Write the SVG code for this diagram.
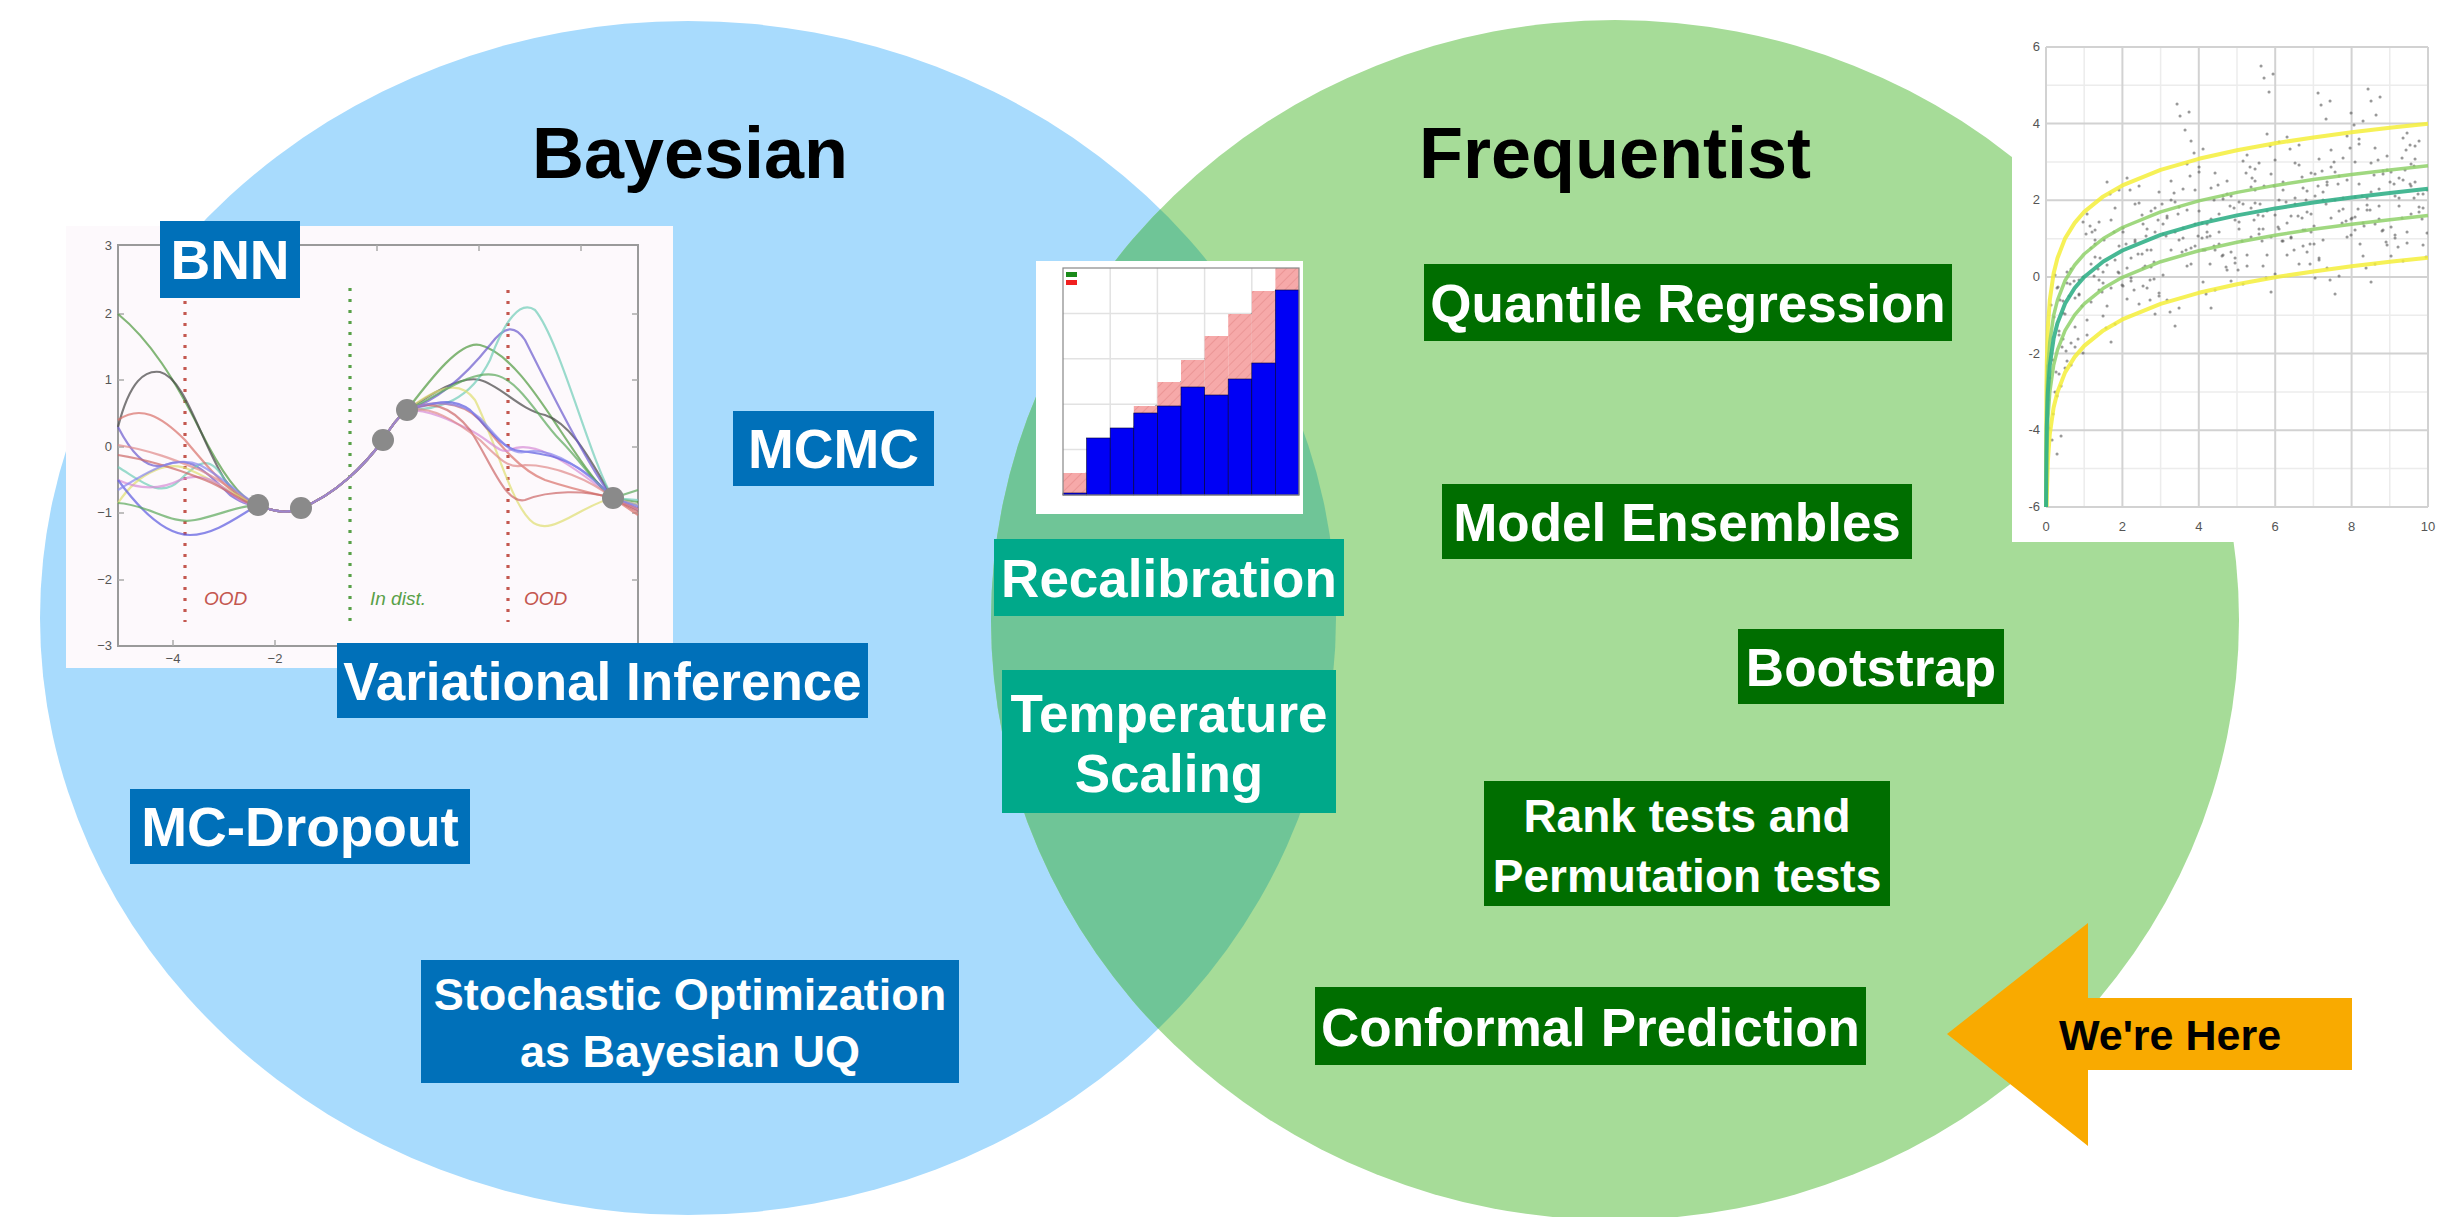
<svg xmlns="http://www.w3.org/2000/svg" width="2449" height="1217" viewBox="0 0 2449 1217">
<defs>
<style>
.lbl{font-family:"Liberation Sans",Arial,Helvetica,sans-serif;font-weight:bold;fill:#fff;text-anchor:middle}
.title{font-family:"Liberation Sans",Arial,Helvetica,sans-serif;font-weight:bold;font-size:72px;fill:#000;text-anchor:middle}
.bay{fill:#0070B9}
.freq{fill:#006E00}
.mid{fill:#00A98A}
.tick{font-family:"Liberation Sans",Arial,sans-serif;font-size:13px;fill:#555}
.crv{fill:none;stroke-width:2.2;opacity:.7}
.note{font-family:"Liberation Sans",Arial,sans-serif;font-style:italic;font-size:19px}
</style>
<clipPath id="blueClip"><ellipse cx="688" cy="618" rx="648" ry="597"/></clipPath>
<clipPath id="plotClip"><rect x="2046" y="47" width="382" height="460"/></clipPath>
<pattern id="hatch" width="7" height="7" patternUnits="userSpaceOnUse" patternTransform="rotate(45)">
<rect width="7" height="7" fill="#f6a9a9"/>
<line x1="0" y1="0" x2="0" y2="7" stroke="#e48a8a" stroke-width="1.2"/>
</pattern>
</defs>
<rect width="2449" height="1217" fill="#fff"/>

<g id="venn">
<ellipse id="bayesian-set" cx="688" cy="618" rx="648" ry="597" fill="#A8DBFD"/>
<ellipse id="frequentist-set" cx="1615" cy="620" rx="624" ry="600" fill="#A6DC98"/>
<ellipse cx="1615" cy="620" rx="624" ry="600" fill="#6FC597" clip-path="url(#blueClip)"/>
</g>

<text class="title" x="690" y="178">Bayesian</text>
<text class="title" x="1615" y="178">Frequentist</text>

<g id="bnn-plot">
<rect x="66" y="226" width="607" height="442" fill="#fdf9fc"/>
<rect x="118" y="245" width="520" height="401" fill="none" stroke="#9a9a9a" stroke-width="2"/>
<g stroke="#aaa" stroke-width="1.5">
<line x1="118" y1="314" x2="124" y2="314"/><line x1="118" y1="380" x2="124" y2="380"/><line x1="118" y1="447" x2="124" y2="447"/><line x1="118" y1="513" x2="124" y2="513"/><line x1="118" y1="580" x2="124" y2="580"/>
<line x1="632" y1="314" x2="638" y2="314"/><line x1="632" y1="380" x2="638" y2="380"/><line x1="632" y1="447" x2="638" y2="447"/><line x1="632" y1="513" x2="638" y2="513"/><line x1="632" y1="580" x2="638" y2="580"/>
<line x1="173" y1="640" x2="173" y2="646"/><line x1="275" y1="640" x2="275" y2="646"/><line x1="173" y1="245" x2="173" y2="251"/><line x1="275" y1="245" x2="275" y2="251"/><line x1="377" y1="245" x2="377" y2="251"/><line x1="479" y1="245" x2="479" y2="251"/><line x1="581" y1="245" x2="581" y2="251"/>
</g>
<g class="tick" text-anchor="end">
<text x="112" y="250">3</text><text x="112" y="318">2</text><text x="112" y="384">1</text><text x="112" y="451">0</text><text x="112" y="517">−1</text><text x="112" y="584">−2</text><text x="112" y="650">−3</text>
</g>
<g class="tick" text-anchor="middle"><text x="173" y="663">−4</text><text x="275" y="663">−2</text></g>
<g stroke-width="3.2" stroke-dasharray="3 8">
<line x1="185" y1="290" x2="185" y2="622" stroke="#c4574f"/>
<line x1="350" y1="288" x2="350" y2="622" stroke="#58a048"/>
<line x1="508" y1="290" x2="508" y2="622" stroke="#c4574f"/>
</g>
<path class="crv" stroke="#4f9a3e" d="M118,314 C150,340 175,380 200,430 C220,470 240,500 258,505 C275,512 288,514 301,508 C335,495 365,465 383,440 C390,428 398,417 407,410 C430,380 460,340 480,345 C510,352 540,400 560,430 C580,460 600,490 613,498 L638,502"/>
<path class="crv" stroke="#444" d="M118,427 C130,380 145,370 160,372 C185,378 200,440 225,480 C240,500 250,505 258,505 C275,512 288,514 301,508 C335,495 365,465 383,440 C390,428 398,417 407,410 C430,395 460,375 480,380 C500,385 520,410 545,415 C575,425 595,470 613,498 L638,510"/>
<path class="crv" stroke="#6a5acd" d="M118,427 C135,460 150,470 165,465 C190,455 205,470 230,495 C245,505 250,505 258,505 C275,512 288,514 301,508 C335,495 365,465 383,440 C390,428 398,417 407,410 C440,400 470,370 490,345 C505,325 515,325 525,340 C550,390 590,470 613,498 L638,505"/>
<path class="crv" stroke="#6fcdb8" d="M118,467 C140,480 160,500 180,480 C200,460 210,455 225,480 C240,500 250,505 258,505 C275,512 288,514 301,508 C335,495 365,465 383,440 C390,428 398,417 407,410 C440,410 470,400 490,360 C505,320 520,300 535,310 C560,340 590,460 613,498 L638,500"/>
<path class="crv" stroke="#d9706a" d="M118,420 C140,405 160,415 185,440 C210,470 235,500 258,505 C275,512 288,514 301,508 C335,495 365,465 383,440 C390,428 398,417 407,410 C430,400 460,400 480,420 C500,445 520,470 545,480 C575,490 600,495 613,498 L638,515"/>
<path class="crv" stroke="#dede70" d="M118,503 C140,470 170,460 190,470 C215,480 240,500 258,505 C275,512 288,514 301,508 C335,495 365,465 383,440 C390,428 398,417 407,410 C440,385 460,380 475,400 C495,440 510,500 530,520 C550,540 580,505 613,498 L638,505"/>
<path class="crv" stroke="#d58cd5" d="M118,480 C140,490 160,490 180,480 C205,470 220,485 240,500 C250,505 255,505 258,505 C275,512 288,514 301,508 C335,495 365,465 383,440 C390,428 398,417 407,410 C430,410 450,420 470,430 C490,440 500,455 510,450 C530,440 560,455 613,498 L638,510"/>
<path class="crv" stroke="#5a5ae0" d="M118,480 C140,510 165,535 190,535 C215,535 240,515 258,505 C275,512 288,514 301,508 C335,495 365,465 383,440 C390,428 398,417 407,410 C430,405 450,395 470,410 C490,430 500,445 515,450 C540,455 570,450 613,498 L638,508"/>
<path class="crv" stroke="#5aa85a" d="M118,503 C150,505 170,525 195,520 C220,515 240,505 258,505 C275,512 288,514 301,508 C335,495 365,465 383,440 C390,428 398,417 407,410 C440,395 470,370 495,375 C520,380 540,420 560,440 C580,460 600,490 613,498 L638,490"/>
<path class="crv" stroke="#cc6666" d="M118,455 C150,460 180,470 205,480 C230,490 245,505 258,505 C275,512 288,514 301,508 C335,495 365,465 383,440 C390,428 398,417 407,410 C430,400 450,405 470,430 C490,460 505,505 525,500 C550,490 585,490 613,498 L638,512"/>
<path class="crv" stroke="#e08a8a" d="M118,445 C150,450 175,460 200,470 C225,482 245,500 258,505 C275,512 288,514 301,508 C335,495 365,465 383,440 C390,428 398,417 407,410 C430,405 455,420 480,440 C500,460 510,470 525,465 C555,465 590,480 613,498 L638,509"/>
<path class="crv" stroke="#8888ee" d="M118,490 C150,470 175,455 200,465 C225,478 245,500 258,505 C275,512 288,514 301,508 C335,495 365,465 383,440 C390,428 398,417 407,410 C430,400 460,400 480,418 C500,440 510,455 525,452 C555,445 590,475 613,498 L638,506"/>
<g fill="#8a8a8a">
<circle cx="258" cy="505" r="11"/><circle cx="301" cy="508" r="11"/><circle cx="383" cy="440" r="11"/><circle cx="407" cy="410" r="11"/><circle cx="613" cy="498" r="11"/>
</g>
<text class="note" x="204" y="605" fill="#c4574f">OOD</text>
<text class="note" x="370" y="605" fill="#58a048">In dist.</text>
<text class="note" x="524" y="605" fill="#c4574f">OOD</text>
</g>

<g id="calibration-plot">
<rect x="1036" y="261" width="267" height="253" fill="#fff"/>
<g stroke="#e2e2e2" stroke-width="1.5">
<line x1="1110.2" y1="268" x2="1110.2" y2="495"/><line x1="1157.4" y1="268" x2="1157.4" y2="495"/><line x1="1204.6" y1="268" x2="1204.6" y2="495"/><line x1="1251.8" y1="268" x2="1251.8" y2="495"/>
<line x1="1063" y1="449.6" x2="1299" y2="449.6"/><line x1="1063" y1="404.2" x2="1299" y2="404.2"/><line x1="1063" y1="358.8" x2="1299" y2="358.8"/><line x1="1063" y1="313.4" x2="1299" y2="313.4"/>
</g>
<line x1="1063" y1="495" x2="1299" y2="268" stroke="#999" stroke-width="1.2" stroke-dasharray="4 3"/>
<g fill="url(#hatch)">
<rect x="1063" y="473" width="23.6" height="20"/>
<rect x="1133.8" y="406" width="23.6" height="7"/>
<rect x="1157.4" y="382" width="23.6" height="24"/>
<rect x="1181" y="360" width="23.6" height="27"/>
<rect x="1204.6" y="336" width="23.6" height="59"/>
<rect x="1228.2" y="314" width="23.6" height="65"/>
<rect x="1251.8" y="291" width="23.6" height="72"/>
<rect x="1275.4" y="268" width="23.6" height="22"/>
</g>
<g fill="#0000F5" stroke="#000033" stroke-width=".6">
<rect x="1063" y="493" width="23.6" height="2"/>
<rect x="1086.6" y="438" width="23.6" height="57"/>
<rect x="1110.2" y="428" width="23.6" height="67"/>
<rect x="1133.8" y="413" width="23.6" height="82"/>
<rect x="1157.4" y="406" width="23.6" height="89"/>
<rect x="1181" y="387" width="23.6" height="108"/>
<rect x="1204.6" y="395" width="23.6" height="100"/>
<rect x="1228.2" y="379" width="23.6" height="116"/>
<rect x="1251.8" y="363" width="23.6" height="132"/>
<rect x="1275.4" y="290" width="23.6" height="205"/>
</g>
<rect x="1063" y="268" width="236" height="227" fill="none" stroke="#888" stroke-width="1.2"/>
<rect x="1066" y="272" width="11" height="5" fill="#1a8a1a"/>
<rect x="1066" y="280" width="11" height="5" fill="#f02020"/>
</g>

<g id="quantile-plot">
<rect x="2012" y="30" width="437" height="512" fill="#fff"/>
<g stroke="#ececec" stroke-width="1.5">
<line x1="2084.2" y1="47" x2="2084.2" y2="507"/><line x1="2160.6" y1="47" x2="2160.6" y2="507"/><line x1="2237" y1="47" x2="2237" y2="507"/><line x1="2313.4" y1="47" x2="2313.4" y2="507"/><line x1="2389.8" y1="47" x2="2389.8" y2="507"/>
<line x1="2046" y1="85.3" x2="2428" y2="85.3"/><line x1="2046" y1="161.9" x2="2428" y2="161.9"/><line x1="2046" y1="238.7" x2="2428" y2="238.7"/><line x1="2046" y1="315.3" x2="2428" y2="315.3"/><line x1="2046" y1="391.9" x2="2428" y2="391.9"/><line x1="2046" y1="468.6" x2="2428" y2="468.6"/>
</g>
<g stroke="#d2d2d2" stroke-width="2">
<line x1="2046" y1="47" x2="2046" y2="507"/><line x1="2122.4" y1="47" x2="2122.4" y2="507"/><line x1="2198.8" y1="47" x2="2198.8" y2="507"/><line x1="2275.2" y1="47" x2="2275.2" y2="507"/><line x1="2351.6" y1="47" x2="2351.6" y2="507"/><line x1="2428" y1="47" x2="2428" y2="507"/>
<line x1="2046" y1="47" x2="2428" y2="47"/><line x1="2046" y1="123.6" x2="2428" y2="123.6"/><line x1="2046" y1="200.2" x2="2428" y2="200.2"/><line x1="2046" y1="277" x2="2428" y2="277"/><line x1="2046" y1="353.6" x2="2428" y2="353.6"/><line x1="2046" y1="430.2" x2="2428" y2="430.2"/><line x1="2046" y1="507" x2="2428" y2="507"/>
</g>
<g class="tick" text-anchor="end">
<text x="2040" y="51">6</text><text x="2040" y="128">4</text><text x="2040" y="204">2</text><text x="2040" y="281">0</text><text x="2040" y="358">-2</text><text x="2040" y="434">-4</text><text x="2040" y="511">-6</text>
</g>
<g class="tick" text-anchor="middle">
<text x="2046" y="531">0</text><text x="2122.4" y="531">2</text><text x="2198.8" y="531">4</text><text x="2275.2" y="531">6</text><text x="2351.6" y="531">8</text><text x="2428" y="531">10</text>
</g>
<g clip-path="url(#plotClip)">
<path id="dots" fill="none" stroke="#555" stroke-width="3" stroke-linecap="round" opacity=".6" d="M2050 378h.1M2058 287h.1M2066 351h.1M2074 281h.1M2082 306h.1M2090 226h.1M2098 269h.1M2106 328h.1M2114 232h.1M2122 285h.1M2130 190h.1M2138 254h.1M2146 236h.1M2154 279h.1M2162 204h.1M2170 312h.1M2178 214h.1M2186 250h.1M2194 153h.1M2202 223h.1M2210 236h.1M2218 185h.1M2226 267h.1M2234 208h.1M2242 241h.1M2250 167h.1M2258 215h.1M2266 278h.1M2274 186h.1M2282 241h.1M2290 149h.1M2298 216h.1M2306 200h.1M2314 244h.1M2322 171h.1M2330 280h.1M2338 184h.1M2346 221h.1M2354 125h.1M2362 196h.1M2370 210h.1M2378 160h.1M2386 242h.1M2394 184h.1M2402 218h.1M2410 145h.1M2418 194h.1M2426 257h.1M2054 317h.1M2062 347h.1M2070 284h.1M2078 339h.1M2086 234h.1M2094 276h.1M2102 292h.1M2110 194h.1M2118 272h.1M2126 244h.1M2134 290h.1M2142 215h.1M2150 300h.1M2158 220h.1M2166 236h.1M2174 193h.1M2182 252h.1M2190 176h.1M2198 236h.1M2206 294h.1M2214 200h.1M2222 256h.1M2230 206h.1M2238 270h.1M2246 173h.1M2254 220h.1M2262 241h.1M2270 146h.1M2278 227h.1M2286 202h.1M2294 250h.1M2302 177h.1M2310 264h.1M2318 186h.1M2326 204h.1M2334 162h.1M2342 223h.1M2350 148h.1M2358 209h.1M2366 268h.1M2374 175h.1M2382 231h.1M2390 182h.1M2398 247h.1M2406 150h.1M2414 198h.1M2422 219h.1M2264 78h.1M2371 101h.1M2321 105h.1M2180 116h.1M2048 400h.1M2052 440h.1M2056 372h.1M2060 300h.1M2095 244h.1M2145 266h.1M2205 250h.1M2255 190h.1M2305 230h.1M2355 230h.1M2405 170h.1"/>
<use href="#dots" transform="translate(5,14)"/>
<use href="#dots" transform="translate(-3,-12)"/>
<use href="#dots" transform="translate(9,-4)"/>
</g>
<g fill="none" stroke-linejoin="round">
<polyline stroke="#f5ee3a" stroke-width="4" opacity=".85" points="2046.02,507 2046.4,388.3 2046.8,361.7 2047.9,326.6 2049.8,300.1 2053.6,273.5 2057.5,258 2065.1,238.4 2074.7,222.9 2084.2,211.9 2103.3,196.4 2122.4,185.4 2160.6,169.8 2198.8,158.8 2237,150.3 2275.2,143.3 2313.4,137.4 2351.6,132.3 2389.8,127.8 2428,123.7"/>
<polyline stroke="#f5ee3a" stroke-width="4" opacity=".85" points="2046.6,507 2046.8,495.7 2047.9,460.6 2049.8,434.1 2053.6,407.5 2057.5,392 2065.1,372.4 2074.7,356.9 2084.2,345.9 2103.3,330.4 2122.4,319.4 2160.6,303.8 2198.8,292.8 2237,284.3 2275.2,277.3 2313.4,271.4 2351.6,266.3 2389.8,261.8 2428,257.7"/>
<polyline stroke="#8fd16a" stroke-width="3.5" opacity=".85" points="2046.05,507 2046.4,430.4 2046.8,403.8 2047.9,368.7 2049.8,342.2 2053.6,315.6 2057.5,300.1 2065.1,280.5 2074.7,265 2084.2,254 2103.3,238.5 2122.4,227.5 2160.6,211.9 2198.8,200.9 2237,192.4 2275.2,185.4 2313.4,179.5 2351.6,174.4 2389.8,169.9 2428,165.8"/>
<polyline stroke="#8fd16a" stroke-width="3.5" opacity=".85" points="2046.2,507 2046.4,480.2 2046.8,453.6 2047.9,418.5 2049.8,392 2053.6,365.4 2057.5,349.9 2065.1,330.3 2074.7,314.8 2084.2,303.8 2103.3,288.3 2122.4,277.3 2160.6,261.7 2198.8,250.7 2237,242.2 2275.2,235.2 2313.4,229.3 2351.6,224.2 2389.8,219.7 2428,215.6"/>
<polyline stroke="#33b088" stroke-width="4" opacity=".9" points="2046.1,507 2046.4,453.4 2046.8,426.8 2047.9,391.7 2049.8,365.2 2053.6,338.6 2057.5,323.1 2065.1,303.5 2074.7,288 2084.2,277 2103.3,261.5 2122.4,250.5 2160.6,234.9 2198.8,223.9 2237,215.4 2275.2,208.4 2313.4,202.5 2351.6,197.4 2389.8,192.9 2428,188.8"/>
</g>
</g>

<g id="connectors"></g>

<g id="node-bnn"><rect class="bay" x="160" y="221" width="140" height="77"/><text class="lbl" x="230" y="279" font-size="55">BNN</text></g>
<g id="node-mcmc"><rect class="bay" x="733" y="411" width="201" height="75"/><text class="lbl" x="833.5" y="468" font-size="55">MCMC</text></g>
<g id="node-vi"><rect class="bay" x="337" y="643" width="531" height="75"/><text class="lbl" x="602.5" y="700" font-size="53">Variational Inference</text></g>
<g id="node-mcdropout"><rect class="bay" x="130" y="789" width="340" height="75"/><text class="lbl" x="300" y="846" font-size="55">MC-Dropout</text></g>
<g id="node-sgd"><rect class="bay" x="421" y="960" width="538" height="123"/><text class="lbl" x="690" y="1010" font-size="45">Stochastic Optimization</text><text class="lbl" x="690" y="1067" font-size="45">as Bayesian UQ</text></g>

<g id="node-recalibration"><rect class="mid" x="994" y="539" width="350" height="77"/><text class="lbl" x="1169" y="597" font-size="53">Recalibration</text></g>
<g id="node-temperature"><rect class="mid" x="1002" y="670" width="334" height="143"/><text class="lbl" x="1169" y="732" font-size="53">Temperature</text><text class="lbl" x="1169" y="792" font-size="53">Scaling</text></g>

<g id="node-quantile"><rect class="freq" x="1424" y="264" width="528" height="77"/><text class="lbl" x="1688" y="322" font-size="53">Quantile Regression</text></g>
<g id="node-ensembles"><rect class="freq" x="1442" y="484" width="470" height="75"/><text class="lbl" x="1677" y="541" font-size="53">Model Ensembles</text></g>
<g id="node-bootstrap"><rect class="freq" x="1738" y="629" width="266" height="75"/><text class="lbl" x="1871" y="686" font-size="53">Bootstrap</text></g>
<g id="node-rank"><rect class="freq" x="1484" y="781" width="406" height="125"/><text class="lbl" x="1687" y="832" font-size="46">Rank tests and</text><text class="lbl" x="1687" y="892" font-size="46">Permutation tests</text></g>
<g id="node-conformal"><rect class="freq" x="1315" y="987" width="551" height="78"/><text class="lbl" x="1590.5" y="1046" font-size="53">Conformal Prediction</text></g>

<g id="we-are-here">
<polygon points="1947,1034 2088,923 2088,998 2352,998 2352,1070 2088,1070 2088,1146" fill="#F9AA00"/>
<text x="2170" y="1050" font-family="'Liberation Sans',Arial,sans-serif" font-weight="bold" font-size="43" fill="#000" text-anchor="middle">We're Here</text>
</g>
</svg>
